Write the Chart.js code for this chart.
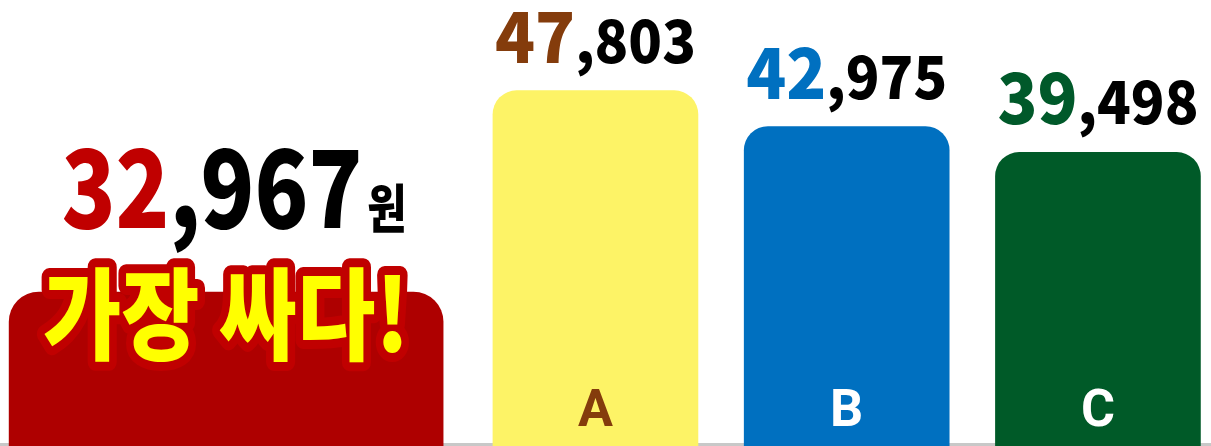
<!DOCTYPE html>
<html>
<head>
<meta charset="utf-8">
<script src="https://cdn.jsdelivr.net/npm/chart.js@4"></script>
<style>
  html, body { margin: 0; padding: 0; background: #ffffff; }
  #wrap { width: 1211px; height: 446px; position: relative; }
</style>
</head>
<body>
<div id="wrap"><canvas id="barChart"></canvas></div>
<script>
// data
const categories = ['A', 'B', 'C'];
const prices = [47803, 42975, 39498];
const lowestPrice = [32967];
const lowestUnit = '원';
const lowestTagline = '가장 싸다!';

// colours
const barColors = ['#FDF366', '#0070C0', '#005A28'];
const headColors = ['#843C0C', '#0070C0', '#00592A'];
const letterColors = ['#843C0C', '#FFFFFF', '#FFFFFF'];
const lowestBarColor = '#AE0000';
const lowestHeadColor = '#C00000';

// x slots (layout only)
const lowestSlot = 0.53;
const slots = [2, 3, 4];

const FONT = '"Noto Sans CJK KR", "Noto Sans", sans-serif';

// draw a number like "47,803" with the thousands part coloured
function drawPrice(ctx, value, cx, baseline, opt) {
    const text = value.toLocaleString('en-US');
    const cut = text.indexOf(',');
    const head = text.slice(0, cut);
    const tail = text.slice(cut);
    ctx.font = `900 ${opt.head}px ${FONT}`;
    const wHead = ctx.measureText(head).width;
    ctx.font = `900 ${opt.tail}px ${FONT}`;
    const wTail = ctx.measureText(tail).width;
    let wUnit = 0;
    if (opt.unit) {
        ctx.font = `900 ${opt.unitSize}px ${FONT}`;
        wUnit = ctx.measureText(opt.unit).width + 6;
    }
    const total = wHead + wTail + wUnit;
    ctx.save();
    ctx.translate(cx, baseline);
    ctx.scale(opt.sx, 1);
    let x = -total / 2;
    ctx.textAlign = 'left';
    ctx.textBaseline = 'alphabetic';
    ctx.font = `900 ${opt.head}px ${FONT}`;
    ctx.fillStyle = opt.color;
    ctx.fillText(head, x, 0);
    x += wHead;
    ctx.font = `900 ${opt.tail}px ${FONT}`;
    ctx.fillStyle = '#000000';
    ctx.fillText(tail, x, 0);
    x += wTail + 6;
    if (opt.unit) {
        ctx.font = `900 ${opt.unitSize}px ${FONT}`;
        ctx.fillText(opt.unit, x, 0);
    }
    ctx.restore();
}

const baseLine = {
    id: 'baseLine',
    beforeDatasetsDraw(chart) {
        const ctx = chart.ctx;
        ctx.save();
        ctx.fillStyle = '#C8C8C8';
        ctx.fillRect(0, chart.chartArea.bottom - 3, chart.width, 3);
        ctx.restore();
    }
};

const barLabels = {
    id: 'barLabels',
    afterDatasetsDraw(chart) {
        const ctx = chart.ctx;
        ctx.save();

        // lowest price bar
        const low = chart.getDatasetMeta(0).data[0];
        drawPrice(ctx, lowestPrice[0], low.x + 8, low.y - 64,
            { head: 108, tail: 108, sx: 0.82, color: lowestHeadColor, unit: lowestUnit, unitSize: 52 });

        // tagline over the lowest bar
        ctx.font = `900 100px ${FONT}`;
        const tw = ctx.measureText(lowestTagline).width;
        const sx = 366 / tw;
        ctx.save();
        ctx.translate(low.x, low.y + 60);
        ctx.scale(sx, 1);
        ctx.textAlign = 'center';
        ctx.textBaseline = 'alphabetic';
        ctx.lineJoin = 'round';
        ctx.lineWidth = 18;
        ctx.strokeStyle = '#C00000';
        ctx.strokeText(lowestTagline, 0, 0);
        ctx.fillStyle = '#FFFF00';
        ctx.fillText(lowestTagline, 0, 0);
        ctx.restore();

        // other bars
        chart.getDatasetMeta(1).data.forEach((bar, i) => {
            drawPrice(ctx, prices[i], bar.x, bar.y - 28,
                { head: 70, tail: 59, sx: 0.94, color: headColors[i] });
            ctx.font = `bold 52px Roboto, sans-serif`;
            ctx.fillStyle = letterColors[i];
            ctx.textAlign = 'center';
            ctx.textBaseline = 'alphabetic';
            ctx.fillText(categories[i], bar.x, 426);
        });
        ctx.restore();
    }
};

const ctx = document.getElementById('barChart').getContext('2d');
const priceChart = new Chart(ctx, {
    type: 'bar',
    data: {
        datasets: [
            {
                label: '최저가',
                data: lowestPrice.map(v => ({ x: lowestSlot, y: v })),
                backgroundColor: lowestBarColor,
                barThickness: 434,
                borderRadius: 30,
                borderSkipped: 'bottom',
                yAxisID: 'yLow'
            },
            {
                label: '가격',
                data: prices.map((v, i) => ({ x: slots[i], y: v })),
                backgroundColor: barColors,
                barThickness: 205,
                borderRadius: 24,
                borderSkipped: 'bottom',
                yAxisID: 'y'
            }
        ]
    },
    options: {
        responsive: true,
        maintainAspectRatio: false,
        animation: false,
        grouped: false,
        layout: { padding: 0 },
        plugins: {
            legend: { display: false },
            tooltip: { enabled: false }
        },
        scales: {
            x: { type: 'linear', min: -0.37, max: 4.45, offset: false, display: false },
            y: { min: 0, max: 60000, display: false },
            yLow: { min: 0, max: 95500, display: false }
        }
    },
    plugins: [baseLine, barLabels]
});
</script>
</body>
</html>
